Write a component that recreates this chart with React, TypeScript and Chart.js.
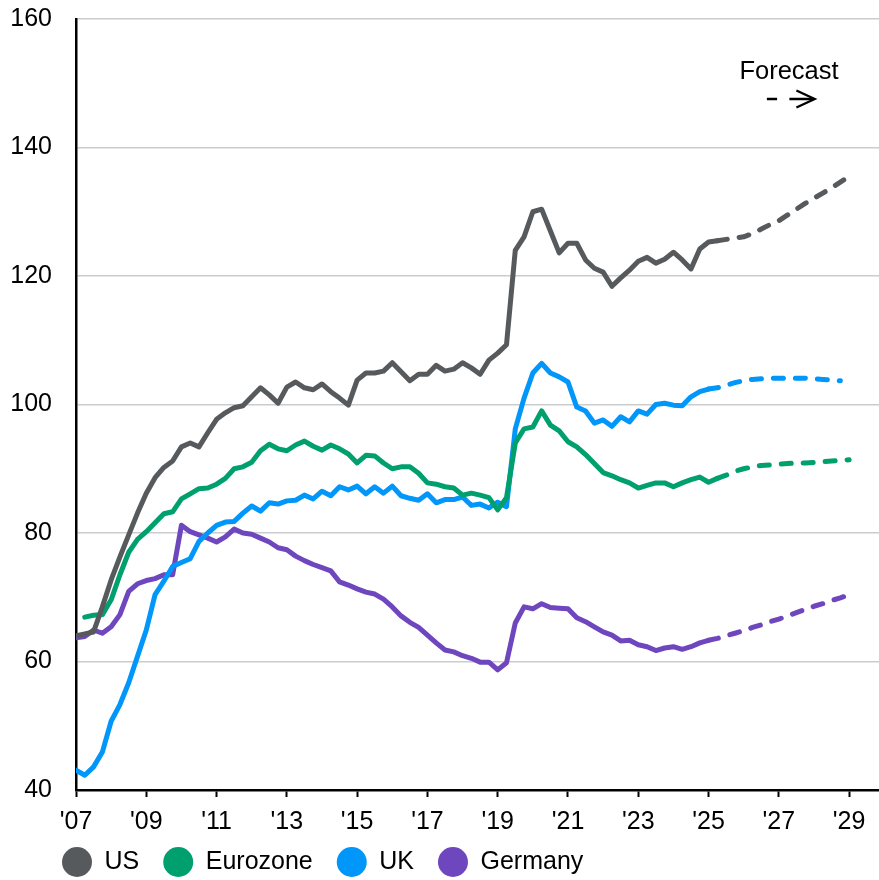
import React, { useEffect, useRef } from 'react';
import { Chart, registerables } from 'chart.js';

Chart.register(...registerables);

const START_YEAR = 2007;
const X_TICKS = [2007, 2009, 2011, 2013, 2015, 2017, 2019, 2021, 2023, 2025, 2027, 2029];
const Y_MIN = 40;
const Y_MAX = 160;
const Y_STEP = 20;

const SERIES_NAMES = ['US', 'Eurozone', 'UK', 'Germany'];
const SERIES_COLORS = ['#575a5d', '#00a06e', '#0096fa', '#6e46be'];
const FORECAST_START = [2025.25, 2025.25, 2025, 2025];

// quarterly values from 2007 Q1
const US_VALUES = [
  64.0, 64.3, 64.6, 68.5, 72.7, 76.3, 79.7, 83.1, 86.2, 88.6,
  90.2, 91.2, 93.4, 94.0, 93.4, 95.6, 97.7, 98.7, 99.5, 99.8,
  101.2, 102.6, 101.5, 100.2, 102.7, 103.5, 102.6, 102.3, 103.2, 102.0,
  101.0, 99.9, 103.8, 104.9, 104.9, 105.2, 106.5, 105.1, 103.7, 104.7,
  104.7, 106.1, 105.2, 105.5, 106.5, 105.7, 104.7, 106.9, 108.0, 109.3,
  124.0, 126.1, 130.0, 130.4, 127.0, 123.6, 125.1, 125.1, 122.5, 121.2,
  120.6, 118.4, 119.7, 120.9, 122.3, 122.9, 122.0, 122.6, 123.7, 122.5,
  121.1, 124.2, 125.3, 125.5, 125.7, 125.9, 126.1, 126.6, 127.3, 128.0,
  128.6, 129.5, 130.4, 131.3, 132.1, 132.9, 133.7, 134.6, 135.5,
];

const EUROZONE_VALUES = [
  null, 66.9, 67.2, 67.3, 69.6, 73.5, 77.0, 79.0, 80.2, 81.6,
  83.0, 83.3, 85.3, 86.1, 86.9, 87.0, 87.6, 88.5, 90.0, 90.3,
  91.0, 92.8, 93.8, 93.1, 92.8, 93.7, 94.3, 93.5, 92.9, 93.7,
  93.1, 92.3, 90.9, 92.1, 92.0, 90.9, 90.0, 90.3, 90.3, 89.3,
  87.8, 87.6, 87.2, 87.0, 85.9, 86.2, 85.9, 85.5, 83.6, 85.5,
  94.0, 96.2, 96.5, 99.0, 96.8, 95.9, 94.2, 93.4, 92.2, 90.8,
  89.4, 88.9, 88.3, 87.8, 87.0, 87.4, 87.8, 87.8, 87.2, 87.8,
  88.3, 88.7, 87.9, 88.5, 89.0, 89.6, 90.0, 90.3, 90.5, 90.6,
  90.7, 90.8, 90.9, 90.9, 91.0, 91.1, 91.2, 91.3, 91.4,
];

const UK_VALUES = [
  43.1, 42.3, 43.6, 45.9, 50.7, 53.3, 56.7, 60.8, 64.9, 70.4,
  72.5, 74.8, 75.4, 76.0, 78.7, 80.0, 81.2, 81.7, 81.8, 83.1,
  84.2, 83.4, 84.7, 84.5, 85.0, 85.1, 85.9, 85.3, 86.5, 85.8,
  87.2, 86.7, 87.3, 86.1, 87.2, 86.2, 87.3, 85.8, 85.4, 85.1,
  86.1, 84.7, 85.2, 85.2, 85.6, 84.3, 84.5, 83.9, 84.8, 84.1,
  96.2, 101.0, 104.9, 106.4, 104.9, 104.3, 103.5, 99.6, 99.0, 97.1,
  97.6, 96.6, 98.1, 97.3, 99.0, 98.5, 100.0, 100.2, 99.9, 99.8,
  101.2, 102.0, 102.4, 102.6, 103.0, 103.4, 103.7, 103.9, 104.0, 104.1,
  104.1, 104.1, 104.1, 104.1, 104.0, 103.9, 103.8, 103.7, null,
];

const GERMANY_VALUES = [
  63.7, 63.9, 64.9, 64.4, 65.4, 67.3, 70.9, 72.1, 72.6, 72.9,
  73.5, 73.5, 81.2, 80.2, 79.7, 79.2, 78.6, 79.4, 80.6, 80.0,
  79.8, 79.2, 78.6, 77.7, 77.4, 76.4, 75.7, 75.1, 74.6, 74.1,
  72.4, 71.9, 71.3, 70.8, 70.5, 69.7, 68.5, 67.1, 66.1, 65.3,
  64.1, 62.9, 61.8, 61.5, 60.9, 60.5, 59.9, 59.9, 58.7, 59.8,
  66.0, 68.5, 68.2, 69.0, 68.4, 68.3, 68.2, 66.8, 66.2, 65.4,
  64.6, 64.1, 63.2, 63.3, 62.6, 62.3, 61.7, 62.1, 62.3, 61.9,
  62.3, 62.9, 63.3, 63.6, 64.0, 64.4, 64.8, 65.3, 65.7, 66.2,
  66.6, 67.1, 67.6, 68.1, 68.6, 69.0, 69.5, 69.9, 70.4,
];

const SERIES_VALUES = [US_VALUES, EUROZONE_VALUES, UK_VALUES, GERMANY_VALUES];

const FORECAST_LABEL = 'Forecast';
const FONT_FAMILY = '"Liberation Sans", Arial, Helvetica, sans-serif';

function toPoints(values: (number | null)[]) {
  const pts: { x: number; y: number }[] = [];
  values.forEach((v, i) => {
    if (v !== null && v !== undefined) pts.push({ x: START_YEAR + i / 4, y: v });
  });
  return pts;
}

const forecastNote = {
  id: 'forecastNote',
  afterDraw(chart: any) {
    const { ctx } = chart;
    const xs = chart.scales.x;
    const ys = chart.scales.y;
    const cx = xs.getPixelForValue(2027.29);
    const ty = ys.getPixelForValue(150.6);
    const ay = ys.getPixelForValue(147.55);
    const a0 = xs.getPixelForValue(2026.66);
    const a1 = xs.getPixelForValue(2026.95);
    const a2 = xs.getPixelForValue(2027.3);
    const tip = xs.getPixelForValue(2028.02);
    const head = xs.getPixelForValue(2027.5);
    ctx.save();
    ctx.fillStyle = '#000';
    ctx.font = `25.5px ${FONT_FAMILY}`;
    ctx.textAlign = 'center';
    ctx.textBaseline = 'alphabetic';
    ctx.fillText(FORECAST_LABEL, cx, ty);
    ctx.strokeStyle = '#000';
    ctx.lineWidth = 2.3;
    ctx.lineCap = 'butt';
    ctx.beginPath();
    ctx.moveTo(a0, ay);
    ctx.lineTo(a1, ay);
    ctx.moveTo(a2, ay);
    ctx.lineTo(tip - 1, ay);
    ctx.stroke();
    ctx.lineJoin = 'miter';
    ctx.beginPath();
    ctx.moveTo(head, ay - 8.5);
    ctx.lineTo(tip, ay);
    ctx.lineTo(head, ay + 8.5);
    ctx.stroke();
    ctx.restore();
  },
};

// place the legend row under the x-axis labels, starting under the y-axis labels
const legendShift = {
  id: 'legendShift',
  afterLayout(chart: any) {
    if (chart.legend) {
      chart.legend.left = 38;
      chart.legend.top = 825.5;
    }
  },
};

export default function App() {
  const canvasRef = useRef<HTMLCanvasElement | null>(null);

  useEffect(() => {
    document.body.style.margin = '0';
    const canvas = canvasRef.current;
    if (!canvas) return;

    const datasets = SERIES_NAMES.map((name, i) => {
      const fs = FORECAST_START[i];
      return {
        label: name,
        data: toPoints(SERIES_VALUES[i]),
        borderColor: SERIES_COLORS[i],
        backgroundColor: SERIES_COLORS[i],
        borderWidth: 5,
        pointRadius: 0,
        pointHoverRadius: 0,
        tension: 0,
        borderJoinStyle: 'round' as const,
        borderCapStyle: 'round' as const,
        segment: {
          borderDash: (c: any) => (c.p0.parsed.x >= fs - 1e-6 ? [10, 12] : undefined),
        },
      };
    });

    const chart = new Chart(canvas, {
      type: 'line',
      data: { datasets },
      plugins: [forecastNote, legendShift],
      options: {
        animation: false,
        responsive: true,
        maintainAspectRatio: false,
        layout: { padding: { left: 0, right: 0, top: 19, bottom: -14 } },
        plugins: {
          tooltip: { enabled: false },
          legend: {
            position: 'bottom',
            align: 'start',
            labels: {
              usePointStyle: true,
              pointStyle: 'circle',
              pointStyleWidth: 30,
              boxHeight: 21.2,
              padding: 24,
              color: '#000',
              font: { family: FONT_FAMILY, size: 25 },
              generateLabels: (ch: any) =>
                Chart.defaults.plugins.legend.labels.generateLabels(ch).map((l: any) => ({
                  ...l,
                  lineWidth: 0,
                  strokeStyle: 'rgba(0,0,0,0)',
                  lineDash: [],
                })),
            },
          },
        },
        scales: {
          x: {
            type: 'linear',
            min: START_YEAR,
            max: 2029.85,
            afterFit: (s: any) => {
              s.height = 45;
            },
            afterBuildTicks: (s: any) => {
              s.ticks = X_TICKS.map((v) => ({ value: v }));
            },
            grid: {
              drawOnChartArea: false,
              drawTicks: true,
              tickLength: 7,
              tickColor: '#000',
              tickWidth: 2,
            },
            border: { display: true, color: '#000', width: 2.5 },
            ticks: {
              autoSkip: false,
              maxRotation: 0,
              padding: 10,
              color: '#000',
              font: { family: FONT_FAMILY, size: 25 },
              callback: (v: any) => "'" + String(v).slice(2),
            },
          },
          y: {
            type: 'linear',
            min: Y_MIN,
            max: Y_MAX,
            afterFit: (s: any) => {
              s.width = 76;
              s.paddingTop = 0;
              s.paddingBottom = 0;
            },
            grid: {
              drawTicks: false,
              color: '#cccccc',
              lineWidth: 1.5,
            },
            border: { display: true, color: '#000', width: 2.5 },
            ticks: {
              stepSize: Y_STEP,
              padding: 24,
              color: '#000',
              font: { family: FONT_FAMILY, size: 25 },
            },
          },
        },
      },
    });

    return () => chart.destroy();
  }, []);

  return (
    <div style={{ position: 'relative', width: 879, height: 880 }}>
      <canvas ref={canvasRef} />
    </div>
  );
}
